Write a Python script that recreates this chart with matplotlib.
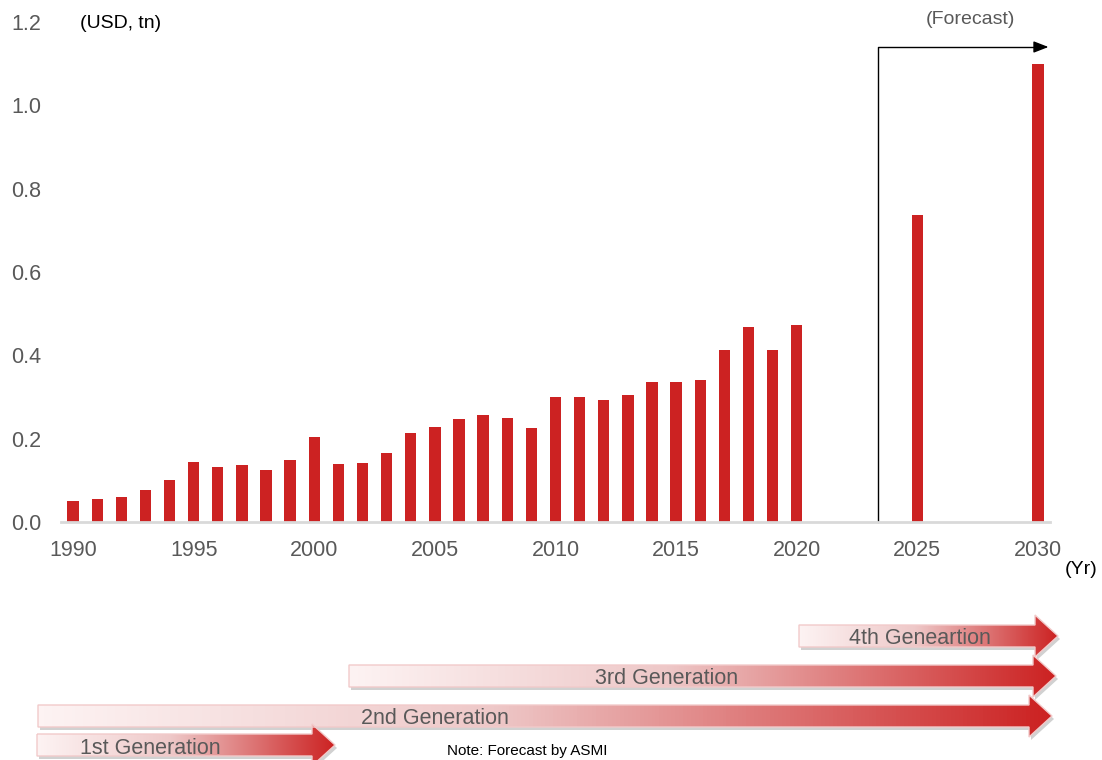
import numpy as np
import matplotlib
matplotlib.use("Agg")
import matplotlib.pyplot as plt
from matplotlib.colors import LinearSegmentedColormap
from matplotlib.patches import Polygon

plt.rcParams["font.family"] = ["Liberation Sans", "DejaVu Sans"]

# Dados (USD, tn)
anos = list(range(1990, 2021))
valores = [0.050, 0.055, 0.060, 0.077, 0.102, 0.144, 0.132, 0.137, 0.126, 0.149,
           0.205, 0.139, 0.142, 0.166, 0.214, 0.227, 0.248, 0.256, 0.249, 0.226,
           0.299, 0.300, 0.293, 0.306, 0.337, 0.336, 0.340, 0.413, 0.469, 0.413,
           0.473]
anos_prev = [2025, 2030]
valores_prev = [0.738, 1.100]
yticks = [0.0, 0.2, 0.4, 0.6, 0.8, 1.0, 1.2]
xticks = [1990, 1995, 2000, 2005, 2010, 2015, 2020, 2025, 2030]

# Geracoes: nome, x inicio, x ponta, y centro (pixels da figura)
geracoes = ["4th Geneartion", "3rd Generation", "2nd Generation", "1st Generation"]
ger_inicio = [799, 349, 38, 37]
ger_fim = [1058, 1056, 1052, 335]
ger_y = [636, 676, 716, 745]
ger_texto_x = [920, 667, 435, 150]

VERMELHO = "#cc2222"
CINZA = "#595959"

W, H = 1102, 760
fig = plt.figure(figsize=(W / 100, H / 100), dpi=100)
ax = fig.add_axes([61 / W, 1 - 522 / H, (1050 - 61) / W, 500 / H])

ax.bar(anos, valores, width=0.47, color=VERMELHO)
ax.bar(anos_prev, valores_prev, width=0.47, color=VERMELHO)

ax.set_xlim(1989.5, 2030.5)
ax.set_ylim(0, 1.2)
ax.set_yticks(yticks)
ax.set_yticklabels([f"{v:.1f}" for v in yticks])
ax.set_xticks(xticks)
ax.tick_params(length=0, labelsize=15.5, labelcolor=CINZA)
ax.tick_params(axis="y", pad=14)
ax.tick_params(axis="x", pad=13)
for s in ["top", "right", "left"]:
    ax.spines[s].set_visible(False)
ax.spines["bottom"].set_color("#d9d9d9")
ax.spines["bottom"].set_linewidth(2)

# Bracket de previsao
ax.plot([2023.35, 2023.35, 2029.9], [0.0, 1.14, 1.14], color="black", lw=1,
        clip_on=False)
ax.annotate("", xy=(2030.55, 1.14), xytext=(2029.8, 1.14),
            arrowprops=dict(arrowstyle="-|>,head_length=0.9,head_width=0.35",
                            color="black", lw=1), annotation_clip=False)
ax.text(2027.2, 1.205, "(Forecast)", ha="center", va="center", fontsize=14,
        color=CINZA)

# Camada por cima em pixels para setas de geracao e textos
ov = fig.add_axes([0, 0, 1, 1])
ov.set_xlim(0, W)
ov.set_ylim(H, 0)
ov.axis("off")

ov.text(80, 23, "(USD, tn)", ha="left", va="center", fontsize=14, color="black")
ov.text(1065, 569, "(Yr)", ha="left", va="center", fontsize=14, color="black")

cmap = LinearSegmentedColormap.from_list(
    "ger", [(0.0, "#fdf3f3"), (0.45, "#eec8c8"), (1.0, VERMELHO)])
grad = np.linspace(0, 1, 256).reshape(1, -1)

for nome, x0, x1, yc, xt in zip(geracoes, ger_inicio, ger_fim, ger_y, ger_texto_x):
    corpo = 11
    cabeca = 21
    comp_cab = 23
    pts = [(x0, yc - corpo), (x1 - comp_cab, yc - corpo), (x1 - comp_cab, yc - cabeca),
           (x1, yc), (x1 - comp_cab, yc + cabeca), (x1 - comp_cab, yc + corpo),
           (x0, yc + corpo)]
    sombra = Polygon([(x + 2, y + 3) for x, y in pts], closed=True,
                     facecolor="#999999", alpha=0.45, edgecolor="none", zorder=1)
    ov.add_patch(sombra)
    poly = Polygon(pts, closed=True, facecolor="none", edgecolor="#f2caca",
                   lw=1, zorder=3)
    ov.add_patch(poly)
    im = ov.imshow(grad, cmap=cmap, aspect="auto", zorder=2,
                   extent=[x0, x1, yc + cabeca, yc - cabeca], interpolation="bilinear")
    im.set_clip_path(poly)
    ov.text(xt, yc + 3, nome, ha="center", va="center", fontsize=15.5,
            color=CINZA, zorder=4)

ov.set_xlim(0, W)
ov.set_ylim(H, 0)

ov.text(447, 758, "Note: Forecast by ASMI", ha="left", va="bottom", fontsize=11,
        color="black")

fig.savefig("out.png", dpi=100)
